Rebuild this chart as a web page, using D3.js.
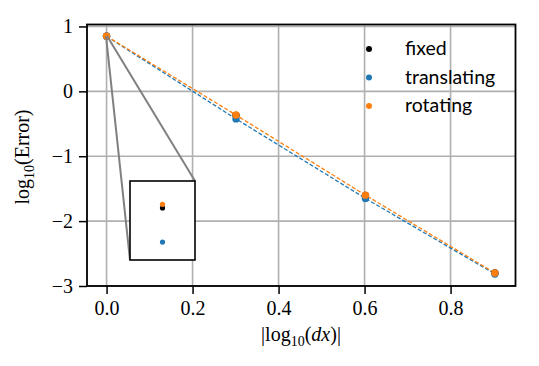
<!DOCTYPE html>
<html>
<head>
<meta charset="utf-8">
<script src="https://cdn.jsdelivr.net/npm/d3@7"></script>
<style>
  body { margin: 0; background: #fff; }
  svg text { font-family: "Liberation Serif", "DejaVu Serif", serif; }
</style>
</head>
<body>
<div id="chart"></div>
<script>
// Data
const xValues = [0, 0.30103, 0.60206, 0.90309]
const fixedVals = [0.8497, -0.37, -1.605, -2.80]
const translatingVals = [0.8478, -0.425, -1.65, -2.815]
const rotatingVals = [0.8499, -0.365, -1.60, -2.80]
const seriesNames = ['fixed', 'translating', 'rotating']
const xTicks = [0, 0.2, 0.4, 0.6, 0.8]
const yTicks = [1, 0, -1, -2, -3]

const COLORS = { fixed: '#000000', translating: '#1f77b4', rotating: '#ff7f0e' }
const WIDTH = 539
const HEIGHT = 366
const PLOT = { left: 87, right: 515.5, top: 24.5, bottom: 286 }

const svg = d3.select('#chart')
    .append('svg')
    .attr('width', WIDTH)
    .attr('height', HEIGHT)
    .style('background', '#fff')

const xScale = d3.scaleLinear().domain([-0.0455, 0.951]).range([PLOT.left, PLOT.right])
const yScale = d3.scaleLinear().domain([-3.0, 1.03]).range([PLOT.bottom, PLOT.top])

// grid
const grid = svg.append('g')
grid.selectAll('.vg').data(xTicks).enter().append('line')
    .attr('x1', d => xScale(d)).attr('x2', d => xScale(d))
    .attr('y1', PLOT.top).attr('y2', PLOT.bottom)
    .attr('stroke', '#b0b0b0').attr('stroke-width', 1.6)
grid.selectAll('.hg').data(yTicks).enter().append('line')
    .attr('y1', d => yScale(d)).attr('y2', d => yScale(d))
    .attr('x1', PLOT.left).attr('x2', PLOT.right)
    .attr('stroke', '#b0b0b0').attr('stroke-width', 1.6)

// axes
const fmtY = d => d < 0 ? '\u2212' + Math.abs(d) : String(d)
svg.append('g')
    .attr('transform', `translate(0, ${PLOT.bottom})`)
    .call(d3.axisBottom(xScale).tickValues(xTicks).tickFormat(d3.format('.1f')).tickSize(8).tickPadding(7))
    .call(g => g.select('.domain').remove())
svg.append('g')
    .attr('transform', `translate(${PLOT.left}, 0)`)
    .call(d3.axisLeft(yScale).tickValues(yTicks).tickFormat(fmtY).tickSize(8).tickPadding(6))
    .call(g => g.select('.domain').remove())
svg.selectAll('.tick line').attr('stroke', '#000').attr('stroke-width', 1.5)
svg.selectAll('.tick text').attr('font-size', 20).attr('fill', '#000')
    .style('font-family', '"Liberation Serif", serif')

// lines and points
const series = [
    { name: 'fixed', values: fixedVals },
    { name: 'translating', values: translatingVals },
    { name: 'rotating', values: rotatingVals }
]
const line = d3.line().x((d, i) => xScale(xValues[i])).y(d => yScale(d))
series.filter(s => s.name !== 'fixed').forEach(s => {
    svg.append('path')
        .attr('d', line(s.values))
        .attr('fill', 'none')
        .attr('stroke', COLORS[s.name])
        .attr('stroke-width', 1.3)
        .attr('stroke-dasharray', '4,2')
})
series.forEach(s => {
    svg.selectAll(null).data(s.values).enter().append('circle')
        .attr('cx', (d, i) => xScale(xValues[i]))
        .attr('cy', d => yScale(d))
        .attr('r', 3.7)
        .attr('fill', COLORS[s.name])
})

// inset
const INSET = { left: 130, right: 195, top: 181, bottom: 260 }
const ixDomain = [-0.0012, 0.0012]
const iyDomain = [0.8468, 0.8512]
const ixScale = d3.scaleLinear().domain(ixDomain).range([INSET.left, INSET.right])
const iyScale = d3.scaleLinear().domain(iyDomain).range([INSET.bottom, INSET.top])

// connector lines from zoomed region to inset corners
svg.append('line')
    .attr('x1', xScale(ixDomain[0])).attr('y1', yScale(iyDomain[0]))
    .attr('x2', INSET.left).attr('y2', INSET.bottom)
    .attr('stroke', '#808080').attr('stroke-width', 2)
svg.append('line')
    .attr('x1', xScale(ixDomain[1])).attr('y1', yScale(iyDomain[1]))
    .attr('x2', INSET.right).attr('y2', INSET.top)
    .attr('stroke', '#808080').attr('stroke-width', 2)

svg.append('rect')
    .attr('x', INSET.left).attr('y', INSET.top)
    .attr('width', INSET.right - INSET.left).attr('height', INSET.bottom - INSET.top)
    .attr('fill', '#fff').attr('stroke', '#000').attr('stroke-width', 1.6)
series.forEach(s => {
    svg.append('circle')
        .attr('cx', ixScale(xValues[0]))
        .attr('cy', iyScale(s.values[0]))
        .attr('r', 2.6)
        .attr('fill', COLORS[s.name])
})

// frame
svg.append('rect')
    .attr('x', PLOT.left).attr('y', PLOT.top)
    .attr('width', PLOT.right - PLOT.left).attr('height', PLOT.bottom - PLOT.top)
    .attr('fill', 'none').attr('stroke', '#000').attr('stroke-width', 1.8)

// legend
const legend = svg.append('g').attr('transform', 'translate(369, 49)')
seriesNames.forEach((n, i) => {
    legend.append('circle').attr('cx', 0).attr('cy', i * 28.5).attr('r', 3).attr('fill', COLORS[n])
    legend.append('text').attr('x', 36).attr('y', i * 28.5 + 6)
        .attr('font-size', 19.5).style('font-family', 'Lato, sans-serif')
        .text(n)
})

// axis labels
const xl = svg.append('text')
    .attr('x', 301).attr('y', 341)
    .attr('text-anchor', 'middle').attr('font-size', 20)
xl.append('tspan').text('|log')
xl.append('tspan').attr('font-size', 14).attr('dy', 5).text('10')
xl.append('tspan').attr('dy', -5).text('(')
xl.append('tspan').attr('font-style', 'italic').text('dx')
xl.append('tspan').text(')|')

const yl = svg.append('text')
    .attr('transform', 'translate(29, 157) rotate(-90)')
    .attr('text-anchor', 'middle').attr('font-size', 20)
yl.append('tspan').text('log')
yl.append('tspan').attr('font-size', 14).attr('dy', 5).text('10')
yl.append('tspan').attr('dy', -5).text('(Error)')
</script>
</body>
</html>
